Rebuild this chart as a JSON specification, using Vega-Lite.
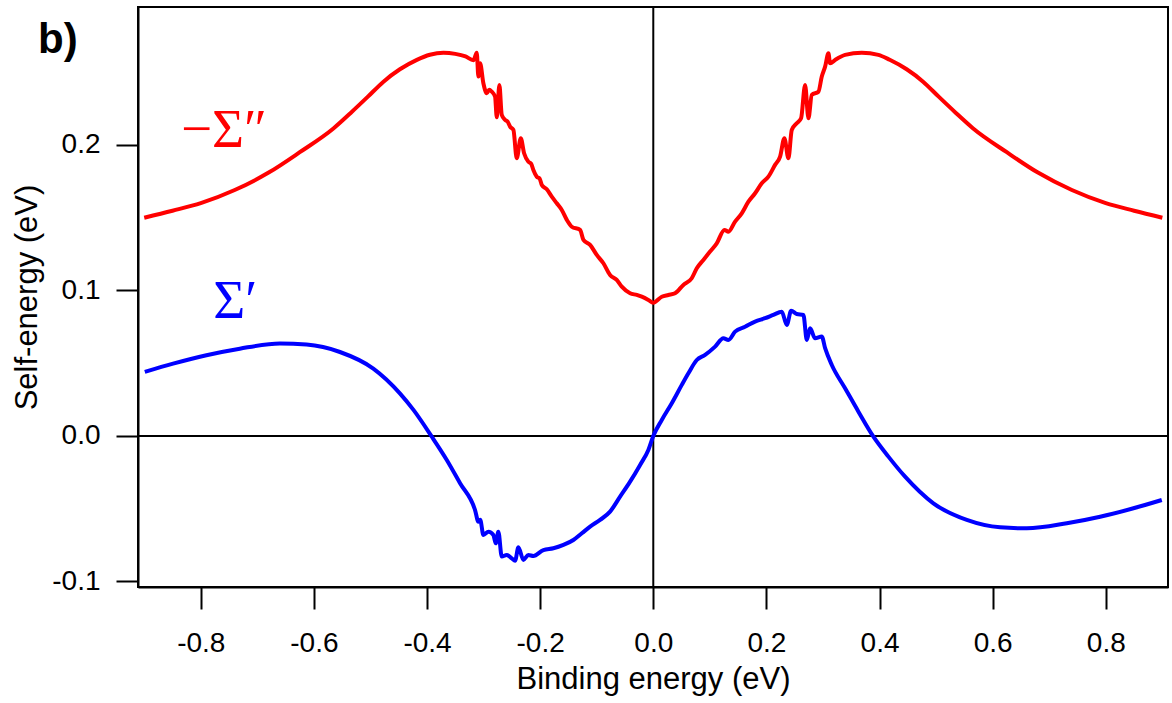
{
  "$schema": "https://vega.github.io/schema/vega-lite/v6.json",
  "width": 1030,
  "height": 580,
  "autosize": {"type": "none"},
  "padding": {"left": 138, "top": 7, "right": 4, "bottom": 116},
  "background": "white",
  "config": {
    "view": {"stroke": "black", "strokeWidth": 2},
    "axis": {
      "grid": false,
      "domainColor": "black", "domainWidth": 2,
      "tickColor": "black", "tickWidth": 2, "tickSize": 22,
      "labelFont": "Liberation Sans", "labelFontSize": 28, "labelColor": "black",
      "titleFont": "Liberation Sans", "titleFontSize": 31, "titleColor": "black", "titleFontWeight": "normal"
    }
  },
  "datasets": {
    "one": [{"k": 1}],
    "sigma": [
      {"c": "im", "E": -0.900, "S": 0.1500},
      {"c": "im", "E": -0.850, "S": 0.1548},
      {"c": "im", "E": -0.800, "S": 0.1600},
      {"c": "im", "E": -0.740, "S": 0.1690},
      {"c": "im", "E": -0.680, "S": 0.1810},
      {"c": "im", "E": -0.625, "S": 0.1950},
      {"c": "im", "E": -0.565, "S": 0.2115},
      {"c": "im", "E": -0.535, "S": 0.2220},
      {"c": "im", "E": -0.505, "S": 0.2330},
      {"c": "im", "E": -0.477, "S": 0.2435},
      {"c": "im", "E": -0.448, "S": 0.2520},
      {"c": "im", "E": -0.418, "S": 0.2585},
      {"c": "im", "E": -0.395, "S": 0.2620},
      {"c": "im", "E": -0.371, "S": 0.2634},
      {"c": "im", "E": -0.350, "S": 0.2626},
      {"c": "im", "E": -0.332, "S": 0.2608},
      {"c": "im", "E": -0.318, "S": 0.2582},
      {"c": "im", "E": -0.3121, "S": 0.2634},
      {"c": "im", "E": -0.3092, "S": 0.2470},
      {"c": "im", "E": -0.3062, "S": 0.2561},
      {"c": "im", "E": -0.3004, "S": 0.2424},
      {"c": "im", "E": -0.2944, "S": 0.2355},
      {"c": "im", "E": -0.2900, "S": 0.2380},
      {"c": "im", "E": -0.2856, "S": 0.2366},
      {"c": "im", "E": -0.2797, "S": 0.2332},
      {"c": "im", "E": -0.2767, "S": 0.2190},
      {"c": "im", "E": -0.2721, "S": 0.2412},
      {"c": "im", "E": -0.2679, "S": 0.2206},
      {"c": "im", "E": -0.2620, "S": 0.2172},
      {"c": "im", "E": -0.2575, "S": 0.2160},
      {"c": "im", "E": -0.2532, "S": 0.2126},
      {"c": "im", "E": -0.2473, "S": 0.2103},
      {"c": "im", "E": -0.2414, "S": 0.1908},
      {"c": "im", "E": -0.2343, "S": 0.2046},
      {"c": "im", "E": -0.2284, "S": 0.1943},
      {"c": "im", "E": -0.2208, "S": 0.1885},
      {"c": "im", "E": -0.2160, "S": 0.1872},
      {"c": "im", "E": -0.2120, "S": 0.1828},
      {"c": "im", "E": -0.2060, "S": 0.1782},
      {"c": "im", "E": -0.2010, "S": 0.1770},
      {"c": "im", "E": -0.1971, "S": 0.1725},
      {"c": "im", "E": -0.1883, "S": 0.1695},
      {"c": "im", "E": -0.1795, "S": 0.1645},
      {"c": "im", "E": -0.1706, "S": 0.1599},
      {"c": "im", "E": -0.1618, "S": 0.1553},
      {"c": "im", "E": -0.1529, "S": 0.1485},
      {"c": "im", "E": -0.1441, "S": 0.1438},
      {"c": "im", "E": -0.1294, "S": 0.1416},
      {"c": "im", "E": -0.1235, "S": 0.1347},
      {"c": "im", "E": -0.1117, "S": 0.1313},
      {"c": "im", "E": -0.0999, "S": 0.1244},
      {"c": "im", "E": -0.0882, "S": 0.1187},
      {"c": "im", "E": -0.0764, "S": 0.1107},
      {"c": "im", "E": -0.0646, "S": 0.1072},
      {"c": "im", "E": -0.0557, "S": 0.1026},
      {"c": "im", "E": -0.0410, "S": 0.0981},
      {"c": "im", "E": -0.0292, "S": 0.0969},
      {"c": "im", "E": -0.0203, "S": 0.0957},
      {"c": "im", "E": -0.0087, "S": 0.0935},
      {"c": "im", "E": 0.0000, "S": 0.0916},
      {"c": "im", "E": 0.0150, "S": 0.0957},
      {"c": "im", "E": 0.0267, "S": 0.0969},
      {"c": "im", "E": 0.0385, "S": 0.0981},
      {"c": "im", "E": 0.0532, "S": 0.1038},
      {"c": "im", "E": 0.0680, "S": 0.1084},
      {"c": "im", "E": 0.0769, "S": 0.1152},
      {"c": "im", "E": 0.0886, "S": 0.1210},
      {"c": "im", "E": 0.1004, "S": 0.1267},
      {"c": "im", "E": 0.1122, "S": 0.1324},
      {"c": "im", "E": 0.1258, "S": 0.1416},
      {"c": "im", "E": 0.1328, "S": 0.1404},
      {"c": "im", "E": 0.1446, "S": 0.1473},
      {"c": "im", "E": 0.1564, "S": 0.1530},
      {"c": "im", "E": 0.1682, "S": 0.1610},
      {"c": "im", "E": 0.1800, "S": 0.1668},
      {"c": "im", "E": 0.1918, "S": 0.1736},
      {"c": "im", "E": 0.2035, "S": 0.1782},
      {"c": "im", "E": 0.2153, "S": 0.1863},
      {"c": "im", "E": 0.2242, "S": 0.1920},
      {"c": "im", "E": 0.2318, "S": 0.2046},
      {"c": "im", "E": 0.2389, "S": 0.1908},
      {"c": "im", "E": 0.2448, "S": 0.2103},
      {"c": "im", "E": 0.2537, "S": 0.2149},
      {"c": "im", "E": 0.2613, "S": 0.2183},
      {"c": "im", "E": 0.2684, "S": 0.2412},
      {"c": "im", "E": 0.2743, "S": 0.2183},
      {"c": "im", "E": 0.2802, "S": 0.2344},
      {"c": "im", "E": 0.2920, "S": 0.2366},
      {"c": "im", "E": 0.2979, "S": 0.2470},
      {"c": "im", "E": 0.3038, "S": 0.2538},
      {"c": "im", "E": 0.3096, "S": 0.2630},
      {"c": "im", "E": 0.3126, "S": 0.2561},
      {"c": "im", "E": 0.3214, "S": 0.2584},
      {"c": "im", "E": 0.3391, "S": 0.2619},
      {"c": "im", "E": 0.3686, "S": 0.2634},
      {"c": "im", "E": 0.3980, "S": 0.2619},
      {"c": "im", "E": 0.4180, "S": 0.2585},
      {"c": "im", "E": 0.448, "S": 0.2520},
      {"c": "im", "E": 0.477, "S": 0.2435},
      {"c": "im", "E": 0.505, "S": 0.2330},
      {"c": "im", "E": 0.535, "S": 0.2220},
      {"c": "im", "E": 0.565, "S": 0.2115},
      {"c": "im", "E": 0.625, "S": 0.1950},
      {"c": "im", "E": 0.680, "S": 0.1810},
      {"c": "im", "E": 0.740, "S": 0.1690},
      {"c": "im", "E": 0.800, "S": 0.1600},
      {"c": "im", "E": 0.850, "S": 0.1548},
      {"c": "im", "E": 0.900, "S": 0.1500},
      {"c": "re", "E": -0.899, "S": 0.0440},
      {"c": "re", "E": -0.849, "S": 0.0497},
      {"c": "re", "E": -0.790, "S": 0.0555},
      {"c": "re", "E": -0.731, "S": 0.0600},
      {"c": "re", "E": -0.660, "S": 0.0635},
      {"c": "re", "E": -0.613, "S": 0.0628},
      {"c": "re", "E": -0.554, "S": 0.0577},
      {"c": "re", "E": -0.495, "S": 0.0463},
      {"c": "re", "E": -0.448, "S": 0.0293},
      {"c": "re", "E": -0.424, "S": 0.0179},
      {"c": "re", "E": -0.3916, "S": -0.0005},
      {"c": "re", "E": -0.3651, "S": -0.0165},
      {"c": "re", "E": -0.3416, "S": -0.0325},
      {"c": "re", "E": -0.3151, "S": -0.0509},
      {"c": "re", "E": -0.3092, "S": -0.0589},
      {"c": "re", "E": -0.3060, "S": -0.0575},
      {"c": "re", "E": -0.3004, "S": -0.0680},
      {"c": "re", "E": -0.2915, "S": -0.0658},
      {"c": "re", "E": -0.2827, "S": -0.0680},
      {"c": "re", "E": -0.2785, "S": -0.0738},
      {"c": "re", "E": -0.2739, "S": -0.0658},
      {"c": "re", "E": -0.2679, "S": -0.0829},
      {"c": "re", "E": -0.2591, "S": -0.0818},
      {"c": "re", "E": -0.2502, "S": -0.0841},
      {"c": "re", "E": -0.2443, "S": -0.0857},
      {"c": "re", "E": -0.2385, "S": -0.0765},
      {"c": "re", "E": -0.2297, "S": -0.0852},
      {"c": "re", "E": -0.2208, "S": -0.0818},
      {"c": "re", "E": -0.2120, "S": -0.0825},
      {"c": "re", "E": -0.1943, "S": -0.0784},
      {"c": "re", "E": -0.1766, "S": -0.0772},
      {"c": "re", "E": -0.1589, "S": -0.0749},
      {"c": "re", "E": -0.1413, "S": -0.0715},
      {"c": "re", "E": -0.1264, "S": -0.0669},
      {"c": "re", "E": -0.1117, "S": -0.0623},
      {"c": "re", "E": -0.0941, "S": -0.0577},
      {"c": "re", "E": -0.0764, "S": -0.0520},
      {"c": "re", "E": -0.0587, "S": -0.0417},
      {"c": "re", "E": -0.0410, "S": -0.0314},
      {"c": "re", "E": -0.0233, "S": -0.0199},
      {"c": "re", "E": -0.0087, "S": -0.0096},
      {"c": "re", "E": 0.0000, "S": 0.0000},
      {"c": "re", "E": 0.0150, "S": 0.0110},
      {"c": "re", "E": 0.0327, "S": 0.0225},
      {"c": "re", "E": 0.0504, "S": 0.0351},
      {"c": "re", "E": 0.0621, "S": 0.0431},
      {"c": "re", "E": 0.0769, "S": 0.0522},
      {"c": "re", "E": 0.0916, "S": 0.0557},
      {"c": "re", "E": 0.1093, "S": 0.0614},
      {"c": "re", "E": 0.1240, "S": 0.0671},
      {"c": "re", "E": 0.1328, "S": 0.0660},
      {"c": "re", "E": 0.1446, "S": 0.0717},
      {"c": "re", "E": 0.1623, "S": 0.0751},
      {"c": "re", "E": 0.1800, "S": 0.0786},
      {"c": "re", "E": 0.1977, "S": 0.0809},
      {"c": "re", "E": 0.2123, "S": 0.0832},
      {"c": "re", "E": 0.2272, "S": 0.0854},
      {"c": "re", "E": 0.2360, "S": 0.0763},
      {"c": "re", "E": 0.2437, "S": 0.0861},
      {"c": "re", "E": 0.2537, "S": 0.0838},
      {"c": "re", "E": 0.2654, "S": 0.0832},
      {"c": "re", "E": 0.2714, "S": 0.0660},
      {"c": "re", "E": 0.2772, "S": 0.0740},
      {"c": "re", "E": 0.2861, "S": 0.0671},
      {"c": "re", "E": 0.2979, "S": 0.0683},
      {"c": "re", "E": 0.3038, "S": 0.0603},
      {"c": "re", "E": 0.3156, "S": 0.0488},
      {"c": "re", "E": 0.3391, "S": 0.0328},
      {"c": "re", "E": 0.3627, "S": 0.0167},
      {"c": "re", "E": 0.3892, "S": -0.0005},
      {"c": "re", "E": 0.4157, "S": -0.0142},
      {"c": "re", "E": 0.4452, "S": -0.0280},
      {"c": "re", "E": 0.4952, "S": -0.0463},
      {"c": "re", "E": 0.5543, "S": -0.0577},
      {"c": "re", "E": 0.6132, "S": -0.0628},
      {"c": "re", "E": 0.6604, "S": -0.0635},
      {"c": "re", "E": 0.7311, "S": -0.0600},
      {"c": "re", "E": 0.7900, "S": -0.0555},
      {"c": "re", "E": 0.8489, "S": -0.0497},
      {"c": "re", "E": 0.8990, "S": -0.0440}
    ]
  },
  "layer": [
    {
      "data": {"name": "one"},
      "mark": {"type": "rule", "color": "black", "strokeWidth": 2},
      "encoding": {"y": {"datum": 0, "type": "quantitative"}}
    },
    {
      "data": {"name": "one"},
      "mark": {"type": "rule", "color": "black", "strokeWidth": 2},
      "encoding": {"x": {"datum": 0, "type": "quantitative"}}
    },
    {
      "data": {"name": "sigma"},
      "mark": {"type": "line", "strokeWidth": 4, "interpolate": "monotone", "clip": true},
      "encoding": {
        "x": {
          "field": "E", "type": "quantitative",
          "scale": {"domain": [-0.911, 0.91], "nice": false, "zero": false},
          "axis": {
            "title": "Binding energy (eV)",
            "values": [-0.8, -0.6, -0.4, -0.2, 0, 0.2, 0.4, 0.6, 0.8],
            "labelExpr": "replace(format(datum.value, '.1f'), '\u2212', '-')",
            "labelPadding": 20, "titlePadding": 7, "labelFlush": false, "labelOverlap": false
          }
        },
        "y": {
          "field": "S", "type": "quantitative",
          "scale": {"domain": [-0.1038, 0.2948], "nice": false, "zero": false},
          "axis": {
            "title": "Self-energy (eV)",
            "values": [-0.1, 0, 0.1, 0.2],
            "labelExpr": "replace(format(datum.value, '.1f'), '\u2212', '-')",
            "labelPadding": 16, "titlePadding": 8, "labelFlush": false, "labelOverlap": false
          }
        },
        "color": {
          "field": "c", "type": "nominal",
          "scale": {"domain": ["im", "re"], "range": ["#ff0000", "#0000ff"]},
          "legend": null
        },
        "detail": {"field": "c"}
      }
    },
    {
      "data": {"name": "one"},
      "mark": {"type": "text", "text": "\u2212\u03a3\u2033", "font": "Liberation Serif", "fontSize": 55, "color": "#ff0000", "align": "left", "baseline": "alphabetic"},
      "encoding": {"x": {"datum": -0.835, "type": "quantitative"}, "y": {"datum": 0.1986, "type": "quantitative"}}
    },
    {
      "data": {"name": "one"},
      "mark": {"type": "text", "text": "\u03a3\u2032", "font": "Liberation Serif", "fontSize": 55, "color": "#0000ff", "align": "left", "baseline": "alphabetic"},
      "encoding": {"x": {"datum": -0.778, "type": "quantitative"}, "y": {"datum": 0.0811, "type": "quantitative"}}
    },
    {
      "data": {"name": "one"},
      "mark": {"type": "text", "text": "b)", "font": "Liberation Sans", "fontWeight": "bold", "fontSize": 42, "color": "black", "align": "left", "baseline": "alphabetic", "clip": false},
      "encoding": {"x": {"datum": -1.0877, "type": "quantitative"}, "y": {"datum": 0.2632, "type": "quantitative"}}
    }
  ]
}
